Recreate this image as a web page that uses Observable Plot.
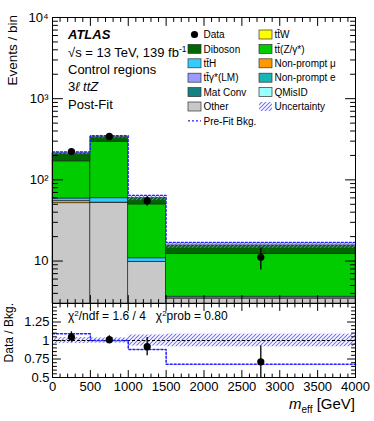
<!DOCTYPE html>
<html><head><meta charset="utf-8">
<script src="https://cdn.jsdelivr.net/npm/d3@7"></script>
<script src="https://cdn.jsdelivr.net/npm/@observablehq/plot@0.6"></script>
<style>
body{margin:0;background:#fff;}
#wrap{position:relative;width:374px;height:421px;overflow:hidden;font-family:"Liberation Sans",Arial,sans-serif;}
#wrap svg{position:absolute;left:0;overflow:visible;background:transparent;}
</style></head><body><div id="wrap"></div>
<script>
// ---- data ----
const binLo = [0, 500, 1000, 1500];
const binHi = [500, 1000, 1500, 4000];
const binCenter = [250, 750, 1250, 2750];
const other   = [51.5, 52, 9.7, 3.45];
const npMu    = [3.2, 0.5, 0.1, 0.02];
const ttH     = [4.2, 6.8, 1.0, 0.17];
const ttZ     = [110, 236, 39, 8.5];
const diboson = [44, 44, 10.2, 3.46];
const data    = [223, 343, 55, 11.1];
const bkgRelUnc = [0.04, 0.035, 0.075, 0.085];
const prefitRatio = [1.09, 1.0, 0.88, 0.68];
const xMajor = [0, 500, 1000, 1500, 2000, 2500, 3000, 3500, 4000];
const yMajorMain = [10, 100, 1000, 10000];
const yMajorMainLabels = ["10", "10²", "10³", "10⁴"];
const yMajorRatio = [0.5, 0.75, 1, 1.25];
const yLabelsRatio = ["0.5", "0.75", "1", "1.25"];

const xDomain = [0, 4000];
const yDomainMain = [3, 1e4];
const yDomainRatio = [0.5, 1.5];

const components = [
  {name: "Other", color: "#c8c8c8", values: other},
  {name: "Non-prompt mu", color: "#ff9900", values: npMu},
  {name: "ttH", color: "#33ccff", values: ttH},
  {name: "ttZ", color: "#00cc00", values: ttZ},
  {name: "Diboson", color: "#006600", values: diboson}
];

const total = binLo.map((_, i) => components.reduce((s, c) => s + c.values[i], 0));
const bins = binLo.map((lo, i) => ({
  lo, hi: binHi[i], c: binCenter[i], total: total[i],
  up: total[i] * (1 + bkgRelUnc[i]), dn: total[i] * (1 - bkgRelUnc[i]),
  data: data[i], dUp: data[i] + Math.sqrt(data[i]), dDn: data[i] - Math.sqrt(data[i]),
  r: data[i] / total[i], rErr: Math.sqrt(data[i]) / total[i],
  ru: 1 + bkgRelUnc[i], rd: 1 - bkgRelUnc[i], pre: prefitRatio[i]
}));
const stepPts = (f) => bins.map(b => ({x: b.lo, y: f(b)})).concat([{x: bins[bins.length-1].hi, y: f(bins[bins.length-1])}]);

// minor ticks
const xMinor = d3.range(0, 4001, 100).filter(v => v % 500 !== 0);
const yMinorMain = [];
[1, 10, 100, 1000].forEach(dec => { for (let k = 2; k <= 9; k++) { const v = k * dec; if (v > yDomainMain[0] && v < yDomainMain[1] && !yMajorMain.includes(v)) yMinorMain.push(v); } });
const yMinorRatio = d3.range(0.5, 1.5001, 0.05).map(v => +v.toFixed(2)).filter(v => !yMajorRatio.includes(v));

const tickShape = {draw(ctx, l) { ctx.moveTo(0, 0); ctx.lineTo(0, -l); }};
function xTicks(vals, len) {
  return [
    Plot.vector(vals, {x: d => d, frameAnchor: "bottom", length: len, rotate: 0, anchor: "start", shape: tickShape, stroke: "black", strokeWidth: 1}),
    Plot.vector(vals, {x: d => d, frameAnchor: "top", length: len, rotate: 180, anchor: "start", shape: tickShape, stroke: "black", strokeWidth: 1})
  ];
}
function yTicks(vals, len) {
  return [
    Plot.vector(vals, {y: d => d, frameAnchor: "left", length: len, rotate: 90, anchor: "start", shape: tickShape, stroke: "black", strokeWidth: 1}),
    Plot.vector(vals, {y: d => d, frameAnchor: "right", length: len, rotate: 270, anchor: "start", shape: tickShape, stroke: "black", strokeWidth: 1})
  ];
}

const FONT = "Liberation Sans, Arial, sans-serif";
const HATCH_MAIN = "url(#hatchMain)";
const HATCH_RATIO = "url(#hatchRatio)";

// ---- main panel ----
const stackMarks = [];
components.forEach((comp, ci) => {
  const rows = bins.map((b, i) => {
    let y1 = 0;
    for (let k = 0; k < ci; k++) y1 += components[k].values[i];
    const y2 = y1 + comp.values[i];
    return {lo: b.lo, hi: b.hi, y1: ci === 0 ? yDomainMain[0] : y1, y2};
  });
  stackMarks.push(Plot.rectY(rows, {x1: "lo", x2: "hi", y1: "y1", y2: "y2", fill: comp.color, stroke: "#1a1a1a", strokeWidth: 0.6}));
});

const main = Plot.plot({
  width: 374, height: 304,
  marginLeft: 52, marginRight: 19, marginTop: 17, marginBottom: 1,
  style: {fontFamily: FONT, fontSize: "13px", background: "transparent", color: "black"},
  x: {domain: xDomain, axis: null},
  y: {type: "log", domain: yDomainMain},
  marks: [
    ...stackMarks,
    Plot.rectY(bins, {x1: "lo", x2: "hi", y1: "dn", y2: "up", fill: HATCH_MAIN}),
    Plot.line(stepPts(b => b.up), {x: "x", y: "y", curve: "step-after", stroke: "#2020ff", strokeWidth: 1.3, strokeDasharray: "2,2"}),
    Plot.ruleX(bins, {x: "c", y1: "dDn", y2: "dUp", stroke: "black", strokeWidth: 1.3}),
    Plot.dot(bins, {x: "c", y: "data", r: 3.6, fill: "black"}),
    Plot.frame({stroke: "black", strokeWidth: 1}),
    ...xTicks(xMajor, 8), ...xTicks(xMinor, 4),
    ...yTicks(yMajorMain, 10), ...yTicks(yMinorMain, 5),
    Plot.axisY({ticks: yMajorMain, tickSize: 0, tickPadding: 4, label: null, fontSize: 13,
      tickFormat: d => yMajorMainLabels[yMajorMain.indexOf(d)]})
  ]
});

// ---- ratio panel ----
const ratio = Plot.plot({
  width: 374, height: 119,
  marginLeft: 52, marginRight: 19, marginTop: 1, marginBottom: 44,
  style: {fontFamily: FONT, fontSize: "13px", background: "transparent", color: "black"},
  x: {domain: xDomain},
  y: {domain: yDomainRatio},
  marks: [
    Plot.rectY(bins, {x1: "lo", x2: "hi", y1: "rd", y2: "ru", fill: HATCH_RATIO}),
    Plot.ruleY([1], {stroke: "black", strokeWidth: 1, strokeDasharray: "3,2"}),
    Plot.line(stepPts(b => b.pre), {x: "x", y: "y", curve: "step-after", stroke: "#2020ff", strokeWidth: 1.5, strokeDasharray: "2,2"}),
    Plot.ruleX(bins, {x: "c", y1: b => Math.max(b.r - b.rErr, yDomainRatio[0]), y2: b => Math.min(b.r + b.rErr, yDomainRatio[1]), stroke: "black", strokeWidth: 1.3}),
    Plot.dot(bins, {x: "c", y: "r", r: 3.6, fill: "black"}),
    Plot.frame({stroke: "black", strokeWidth: 1}),
    ...xTicks(xMajor, 7), ...xTicks(xMinor, 3.5),
    ...yTicks(yMajorRatio, 8), ...yTicks(yMinorRatio, 4),
    Plot.axisX({ticks: xMajor, tickSize: 0, tickPadding: 4, label: null, fontSize: 13, tickFormat: d => String(d)}),
    Plot.axisY({ticks: yMajorRatio, tickSize: 0, tickPadding: 3, label: null, fontSize: 13,
      tickFormat: d => yLabelsRatio[yMajorRatio.indexOf(d)]})
  ]
});

const wrap = document.getElementById("wrap");
main.style.top = "0px";
ratio.style.top = "302px";
wrap.appendChild(main);
wrap.appendChild(ratio);

function addHatch(svg, id) {
  const p = d3.select(svg).insert("defs", ":first-child").append("pattern")
    .attr("id", id).attr("patternUnits", "userSpaceOnUse").attr("width", 4).attr("height", 4);
  p.append("path").attr("d", "M-1,1 l2,-2 M0,4 l4,-4 M3,5 l2,-2")
    .attr("stroke", "#7070ff").attr("stroke-width", 1.1);
}
addHatch(main, "hatchMain");
addHatch(ratio, "hatchRatio");

// ---- annotations & legend on main ----
const g = d3.select(main).append("g").attr("font-family", FONT).attr("fill", "black").attr("text-anchor", "start");
g.append("text").attr("x", 68).attr("y", 38.5).attr("font-size", 13).attr("font-weight", "bold").attr("font-style", "italic").text("ATLAS");
const t2 = g.append("text").attr("x", 68).attr("y", 56.5).attr("font-size", 13);
t2.append("tspan").text("√s = 13 TeV, 139 fb");
t2.append("tspan").attr("dy", -5).attr("font-size", 8.5).text("-1");
g.append("text").attr("x", 68).attr("y", 74).attr("font-size", 13).text("Control regions");
const t4 = g.append("text").attr("x", 68).attr("y", 91).attr("font-size", 13);
t4.append("tspan").text("3");
t4.append("tspan").attr("font-style", "italic").text("ℓ ttZ");
g.append("text").attr("x", 68).attr("y", 108.5).attr("font-size", 13).text("Post-Fit");

const legCol1 = [
  {label: "Data", type: "dot"},
  {label: "Diboson", color: "#006600"},
  {label: "tt̄H", color: "#33ccff"},
  {label: "tt̄γ*(LM)", color: "#9a9aff"},
  {label: "Mat Conv", color: "#158282"},
  {label: "Other", color: "#c8c8c8"},
  {label: "Pre-Fit Bkg.", type: "dash"}
];
const legCol2 = [
  {label: "tt̄W", color: "#ffff00"},
  {label: "tt̄(Z/γ*)", color: "#00cc00"},
  {label: "Non-prompt μ", color: "#ff9900"},
  {label: "Non-prompt e", color: "#17b5b5"},
  {label: "QMisID", color: "#99ffff"},
  {label: "Uncertainty", type: "hatch"}
];
function drawLegend(items, bx) {
  items.forEach((it, i) => {
    const cy = 34.5 + i * 14.4;
    if (it.type === "dot") {
      g.append("circle").attr("cx", bx + 6.5).attr("cy", cy).attr("r", 3.6).attr("fill", "black");
    } else if (it.type === "dash") {
      g.append("line").attr("x1", bx).attr("x2", bx + 13).attr("y1", cy).attr("y2", cy)
        .attr("stroke", "#2020ff").attr("stroke-width", 1.3).attr("stroke-dasharray", "2,2");
    } else if (it.type === "hatch") {
      g.append("rect").attr("x", bx).attr("y", cy - 4.5).attr("width", 13).attr("height", 9).attr("fill", HATCH_MAIN);
    } else {
      g.append("rect").attr("x", bx).attr("y", cy - 4.5).attr("width", 13).attr("height", 9)
        .attr("fill", it.color).attr("stroke", "#333").attr("stroke-width", 0.7);
    }
    g.append("text").attr("x", bx + 15.5).attr("y", cy + 3.6).attr("font-size", 10).text(it.label);
  });
}
drawLegend(legCol1, 188);
drawLegend(legCol2, 259);

g.append("text").attr("transform", "translate(16.7,15) rotate(-90)").attr("text-anchor", "end")
  .attr("font-size", 13.5).text("Events / bin");

// ---- annotations on ratio ----
const gr = d3.select(ratio).append("g").attr("font-family", FONT).attr("fill", "black").attr("text-anchor", "start");
const chi = gr.append("text").attr("x", 68).attr("y", 18).attr("font-size", 12);
chi.append("tspan").text("χ");
chi.append("tspan").attr("dy", -4).attr("font-size", 8).text("2");
chi.append("tspan").attr("dy", 4).text("/ndf = 1.6 / 4   χ");
chi.append("tspan").attr("dy", -4).attr("font-size", 8).text("2");
chi.append("tspan").attr("dy", 4).text("prob = 0.80");
gr.append("text").attr("transform", "translate(12.6,1) rotate(-90)").attr("text-anchor", "end")
  .attr("font-size", 12).text("Data / Bkg.");
const xt = gr.append("text").attr("x", 355).attr("y", 107).attr("text-anchor", "end").attr("font-size", 15);
xt.append("tspan").attr("font-style", "italic").text("m");
xt.append("tspan").attr("dy", 4).attr("font-size", 10).text("eff");
xt.append("tspan").attr("dy", -4).text(" [GeV]");
</script></body></html>
